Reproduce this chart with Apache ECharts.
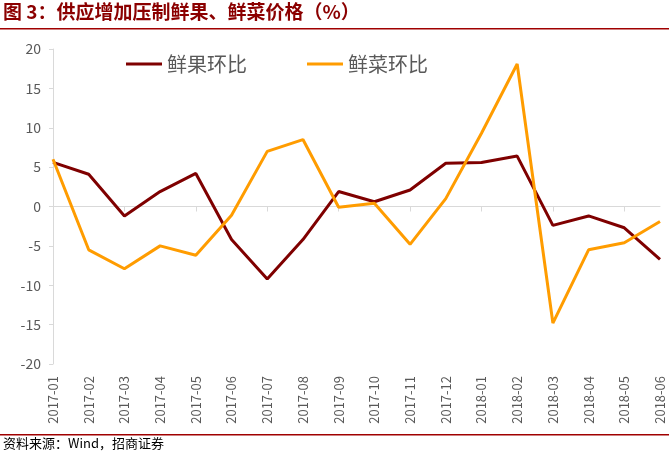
<!DOCTYPE html>
<html><head><meta charset="utf-8">
<script src="https://cdn.jsdelivr.net/npm/echarts@6/dist/echarts.min.js"></script>
<style>html,body{margin:0;padding:0;background:#fff}#c{width:669px;height:455px}</style>
</head><body><div id="c"></div>
<script>
const categories = ['2017-01','2017-02','2017-03','2017-04','2017-05','2017-06','2017-07','2017-08','2017-09','2017-10','2017-11','2017-12','2018-01','2018-02','2018-03','2018-04','2018-05','2018-06'];
const fruit = [5.6, 4.1, -1.2, 1.9, 4.2, -4.2, -9.2, -4.2, 1.9, 0.6, 2.1, 5.5, 5.6, 6.4, -2.4, -1.2, -2.7, -6.7];
const veg = [6.0, -5.5, -7.9, -5.0, -6.2, -1.1, 7.0, 8.5, -0.1, 0.4, -4.8, 1.0, 9.3, 18.1, -14.8, -5.5, -4.6, -1.9];
const seriesNames = ['鲜果环比', '鲜菜环比'];
const titleText = '图 3：供应增加压制鲜果、鲜菜价格（%）';
const sourceText = '资料来源：Wind，招商证券';

const chart = echarts.init(document.getElementById('c'), null, {renderer: 'canvas'});
const font = '"Noto Sans CJK SC", "Liberation Sans", sans-serif';
chart.setOption({
  animation: false,
  textStyle: {fontFamily: font},
  grid: {left: 53, right: 9, top: 49, bottom: 91, containLabel: false},
  legend: {
    data: seriesNames, left: 121, top: 49, itemWidth: 36, itemHeight: 3, itemGap: 60,
    icon: 'rect',
    textStyle: {fontSize: 20, color: '#595959', fontFamily: font}
  },
  xAxis: [{
    type: 'category', data: categories, boundaryGap: false,
    axisLine: {onZero: true, lineStyle: {color: '#d9d9d9', width: 1}},
    axisTick: {show: true, length: 5, lineStyle: {color: '#d9d9d9'}},
    axisLabel: {show: false}
  }, {
    type: 'category', data: categories, boundaryGap: false, position: 'bottom',
    axisLine: {show: false, onZero: false}, axisTick: {show: false},
    axisLabel: {rotate: 90, margin: 12, fontSize: 13, color: '#595959', fontFamily: font, interval: 0}
  }],
  yAxis: {
    type: 'value', min: -20, max: 20, interval: 5,
    axisLine: {show: true, lineStyle: {color: '#d9d9d9'}},
    axisTick: {show: true, length: 4, lineStyle: {color: '#d9d9d9'}},
    splitLine: {show: false},
    axisLabel: {fontSize: 14, color: '#595959', margin: 12, fontFamily: font}
  },
  series: [
    {name: seriesNames[0], type: 'line', data: fruit, symbol: 'none', color: '#7f0000', lineStyle: {width: 3, color: '#7f0000'}},
    {name: seriesNames[1], type: 'line', data: veg, symbol: 'none', color: '#ff9c00', lineStyle: {width: 3, color: '#ff9c00'}}
  ],
  graphic: [
    {type: 'text', left: 3, top: 2, style: {text: titleText, fill: '#8b0000', font: 'bold 19px ' + font}},
    {type: 'rect', shape: {x: 0, y: 28, width: 669, height: 1.5}, style: {fill: '#a00000'}},
    {type: 'rect', shape: {x: 0, y: 434, width: 669, height: 1.5}, style: {fill: '#a00000'}},
    {type: 'text', left: 3, top: 437, style: {text: sourceText, fill: '#000', font: '13px ' + font}}
  ]
});
</script></body></html>
